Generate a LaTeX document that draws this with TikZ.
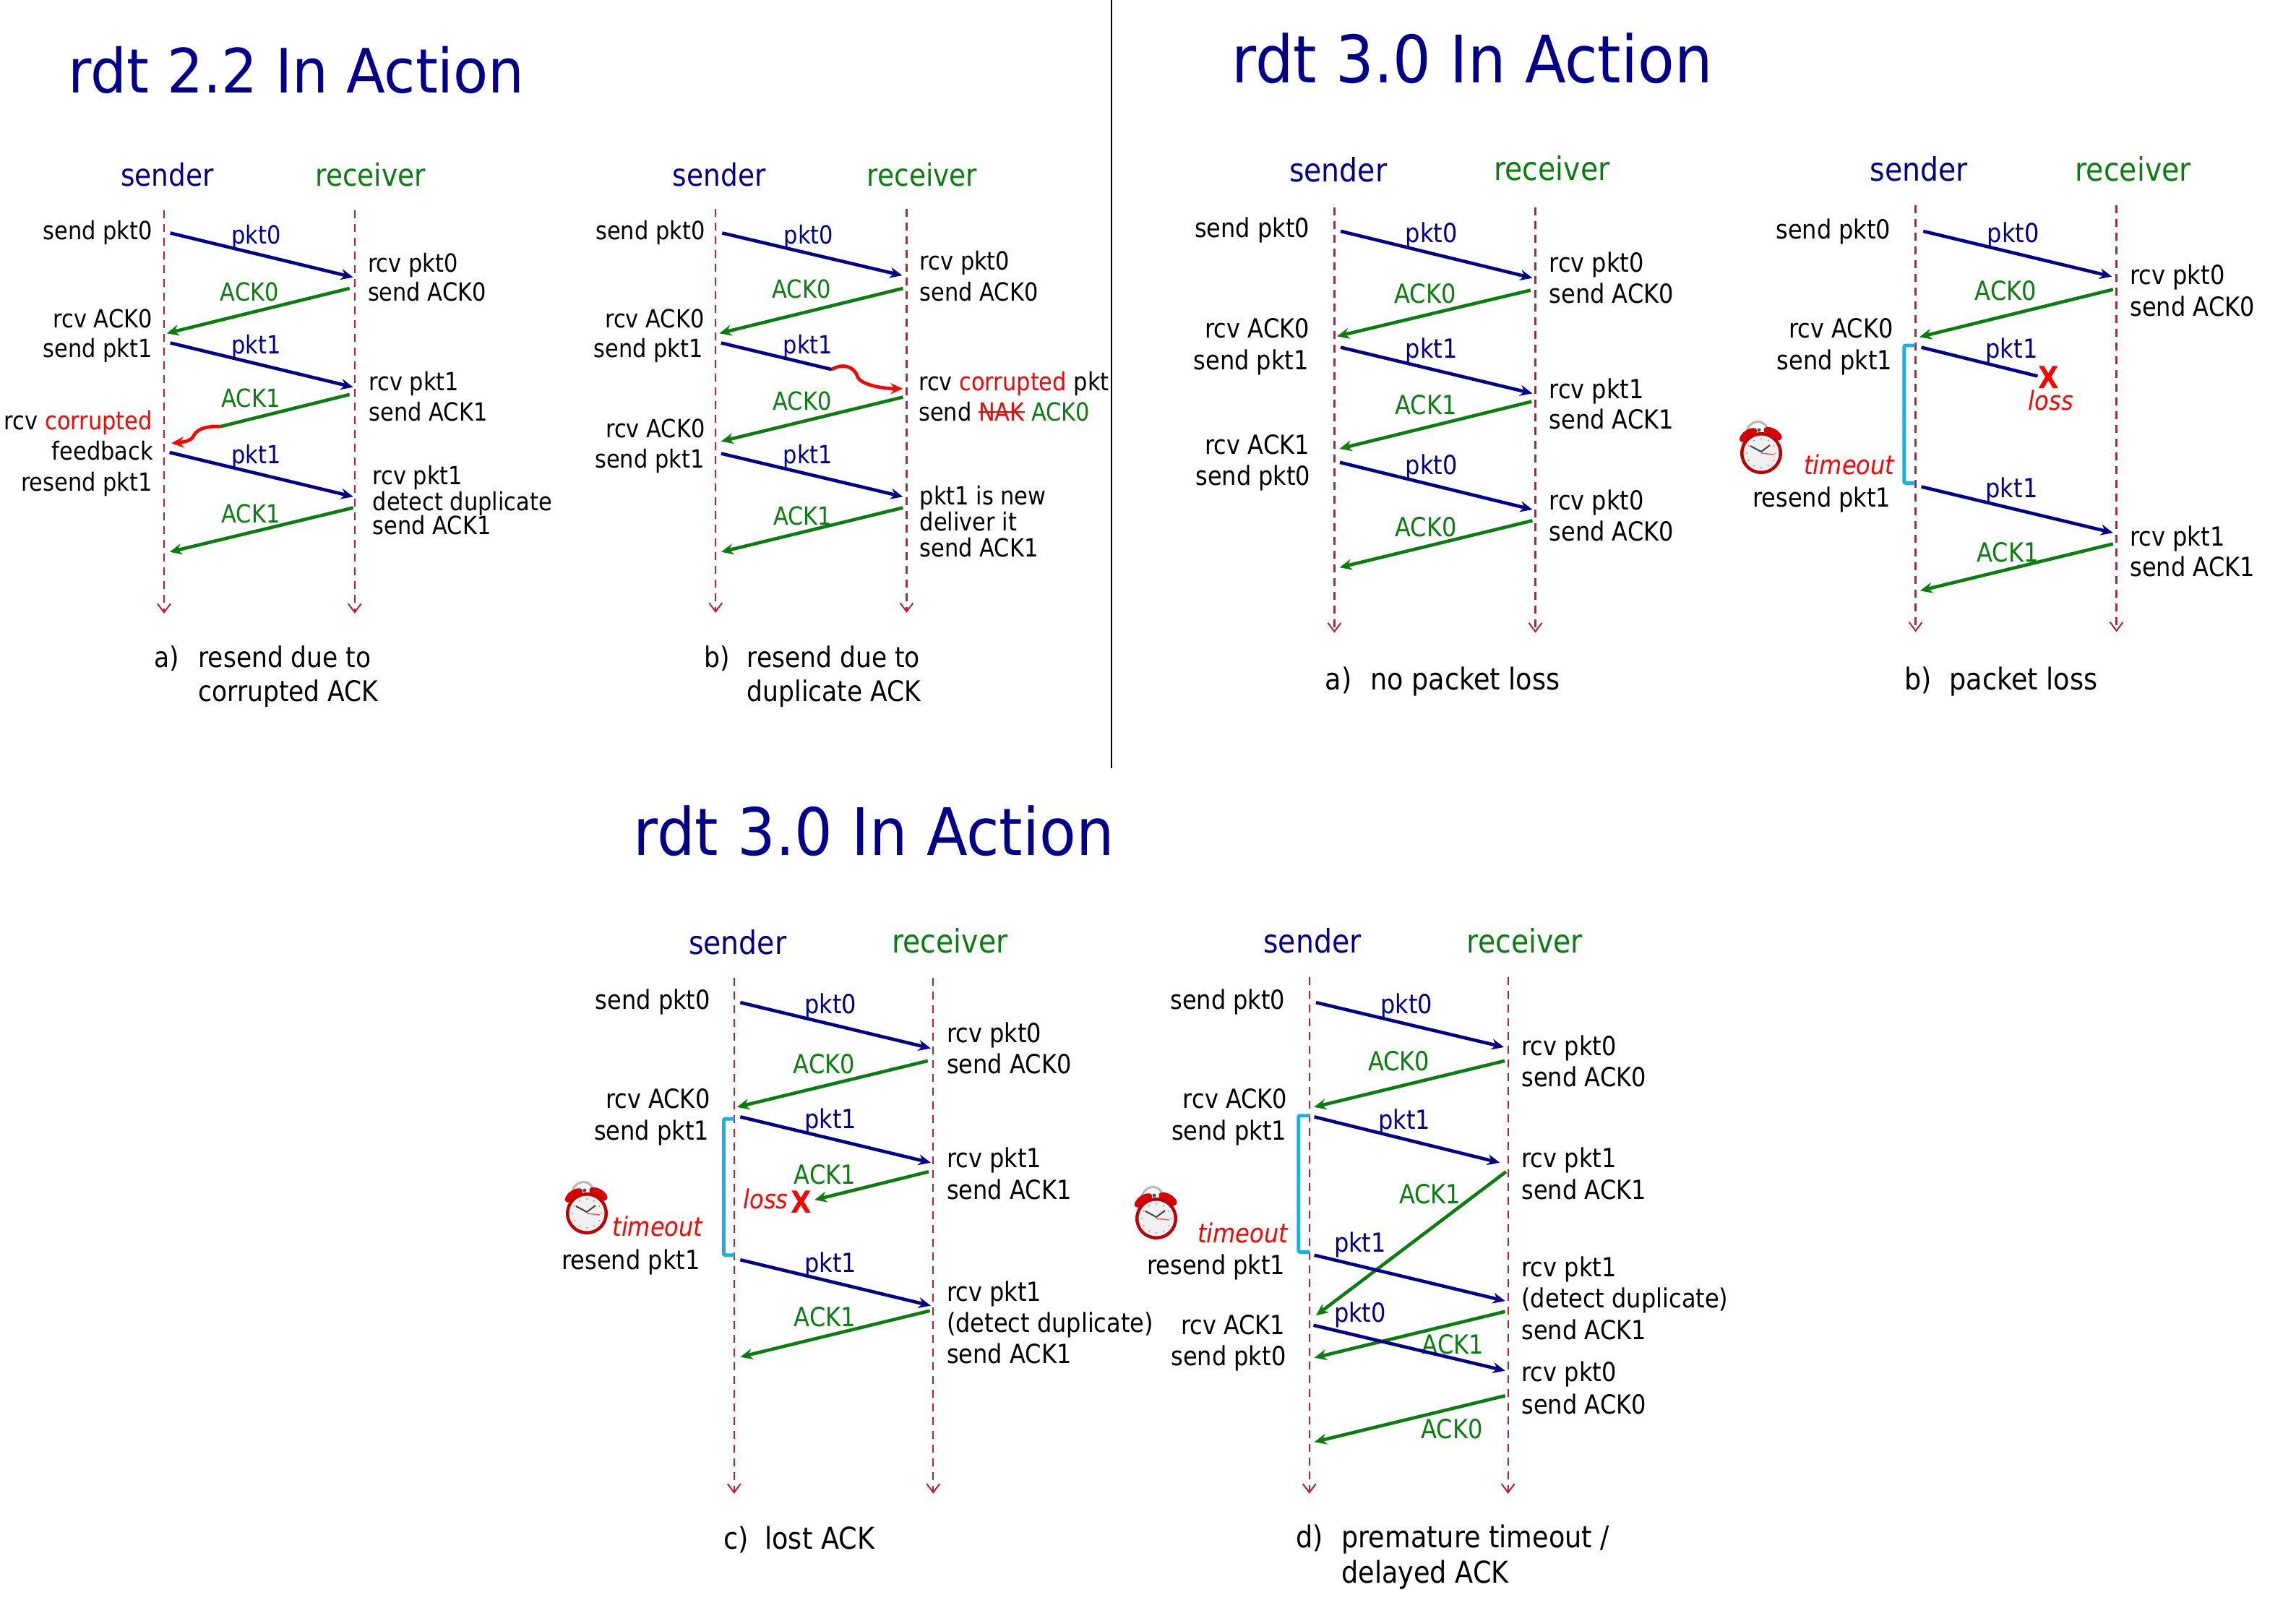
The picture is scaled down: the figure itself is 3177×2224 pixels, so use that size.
\documentclass[tikz,border=0pt]{standalone}
\usepackage{fontspec}
\setmainfont[FakeStretch=0.88]{DejaVu Sans}
\newfontfamily\ttlfam[FakeStretch=0.93]{DejaVu Sans}
\newfontfamily\ttlfamb[FakeStretch=0.915]{DejaVu Sans}
\usetikzlibrary{arrows.meta}
\definecolor{navy}{RGB}{0,0,140}
\definecolor{grn}{RGB}{10,125,15}
\definecolor{lifered}{RGB}{190,30,50}
\definecolor{brk}{RGB}{25,175,232}
\newcounter{tn}
\newcounter{cn}
% text node with an automatic name
\newcommand\lbl[3][]{\stepcounter{tn}\edef\nm{t\arabic{tn}}\node[#1] (\nm) at (#2) {#3};}
% connector between two named coordinates
\newcommand\msg[3]{\stepcounter{cn}\edef\nm{c\arabic{cn}}\coordinate (\nm s) at (#2);\coordinate (\nm e) at (#3);\draw[#1] (\nm s) -- (\nm e);}
% lifelines: xs xr top bottom senderx senderbase recvx recvbase
\newcommand\lifelines[8]{%
  \stepcounter{cn}\edef\nm{c\arabic{cn}}%
  \coordinate (\nm a) at (#1,#3);\coordinate (\nm b) at (#1,#4);
  \coordinate (\nm c) at (#2,#3);\coordinate (\nm d) at (#2,#4);
  \draw[life] (\nm a) -- (\nm b);
  \draw[life] (\nm c) -- (\nm d);
  \lbl[hsnd]{#5,#6}{sender}
  \lbl[hrcv]{#7,#8}{receiver}
}
\newcommand\timerbrack[3]{\stepcounter{cn}\edef\nm{c\arabic{cn}}%
  \coordinate (\nm a) at (#1,#2);\coordinate (\nm b) at (#1,#3);
  \draw[brk,line width=2.4pt,rounded corners=1pt] ([xshift=7.5pt]\nm a) -- (\nm a) -- (\nm b) -- ([xshift=7.5pt]\nm b);}
% alarm clock drawn directly, #1=x #2=y in page pixels
\newcommand\clockicon[2]{%
\begin{scope}[shift={(#1,#2)}]
  \draw[gray!55,line width=1.6pt] (-20,-30) .. controls (-16,-47) and (4,-48) .. (9,-33);
  \fill[black!70] (-3,-32) circle (2.5);
  \fill[red!85!black,rotate around={35:(-18,-25)}] (-18,-25) ellipse (14 and 7);
  \fill[red!85!black,rotate around={-30:(16,-27)}] (16,-27) ellipse (14 and 7);
  \fill[red!75!black] (0,0) circle (29);
  \fill[black!6] (0,0) circle (24.5);
  \foreach \a in {0,30,...,330}{\fill[black!40] (\a:20) circle (1.1);}
  \draw[black!75,line width=1pt] (-15,-10) -- (0,-2) -- (12,-11);
  \draw[red!70,line width=.7pt] (0,0) -- (18,2);
\end{scope}}
\newcommand\strk[1]{\setbox0\hbox{#1}\rlap{\rule[.33em]{\wd0}{1.3pt}}\box0\relax}
\tikzset{
  lft/.style={anchor=base east,inner sep=0pt,text=black,xshift=1pt},
  rgt/.style={anchor=base west,inner sep=0pt,text=black},
  pk/.style={anchor=base west,inner sep=0pt,text=navy},
  ak/.style={anchor=base west,inner sep=0pt,text=grn},
  hsnd/.style={anchor=base west,inner sep=0pt,text=navy,font=\hfont},
  hrcv/.style={anchor=base west,inner sep=0pt,text=grn,font=\hfont},
  captext/.style={anchor=base west,inner sep=0pt,text=black,font=\cfont},
  ttl/.style={anchor=base west,inner sep=0pt,text=navy},
  red it/.style={inner sep=0pt,text=red,font=\pfont\itshape},
  xmark/.style={anchor=center,inner sep=0pt,text=red,font=\fontsize{21}{24}\selectfont\bfseries},
  life/.style={lifered,line width=1.2pt,dash pattern=on 5.5pt off 4pt,-{Straight Barb[length=6pt,width=9pt,line width=1pt]}},
  bl/.style={navy,line width=2.3pt,-{Stealth[length=8.5pt,width=7.5pt]}},
  gr/.style={grn,line width=2.3pt,-{Stealth[length=8.5pt,width=7.5pt]}},
  blnt/.style={navy,line width=2.3pt},
  grnt/.style={grn,line width=2.3pt},
  rdh/.style={red,line width=2.3pt,-{Stealth[length=8.5pt,width=7.5pt]}},
}
\def\pfont{\fontsize{17.3}{20}\selectfont}
\def\hfont{\fontsize{21.3}{24}\selectfont}
\def\cfont{\fontsize{19.6}{22}\selectfont}
\begin{document}
\begin{tikzpicture}[x=0.5pt,y=-0.5pt]
\path[use as bounding box,fill=white] (0,0) rectangle (3177,2224);
\coordinate (divt) at (1538,0);\coordinate (divb) at (1538,1063);
\draw[black,line width=1.2pt] (divt) -- (divb);
\node[ttl,font=\ttlfam\fontsize{42.3}{48}\selectfont] (title1) at (94,128) {rdt 2.2 In Action};
\node[ttl,font=\ttlfamb\fontsize{45.3}{48}\selectfont] (title2) at (1704,114) {rdt 3.0 In Action};
\node[ttl,font=\ttlfamb\fontsize{45.3}{48}\selectfont] (title3) at (876,1183) {rdt 3.0 In Action};

% ---- rdt 2.2 a
\begin{scope}[shift={(0,200)},x=0.2551pt,y=-0.2551pt,every node/.style={font=\pfont}]
\lifelines{445}{962}{178}{1272}{327}{112}{855}{112}
\lbl[lft]{410,258}{send pkt0}
\lbl[lft]{410,497}{rcv ACK0}
\lbl[lft]{410,578}{send pkt1}
\lbl[lft]{410,773}{rcv {\color{red}corrupted}}
\lbl[lft]{412,855}{feedback}
\lbl[lft]{410,940}{resend pkt1}
\lbl[rgt]{997,345}{rcv pkt0}
\lbl[rgt]{997,425}{send ACK0}
\lbl[rgt]{1000,668}{rcv pkt1}
\lbl[rgt]{1000,750}{send ACK1}
\lbl[rgt]{1010,922}{rcv pkt1}
\lbl[rgt]{1010,992}{detect duplicate}
\lbl[rgt]{1010,1058}{send ACK1}
\lbl[pk]{627,270}{pkt0}
\lbl[ak]{597,425}{ACK0}
\lbl[pk]{627,568}{pkt1}
\lbl[ak]{600,712}{ACK1}
\lbl[pk]{627,865}{pkt1}
\lbl[ak]{600,1027}{ACK1}
\msg{bl}{462,240}{958,360}
\msg{gr}{948,390}{452,512}
\msg{bl}{462,538}{958,658}
\msg{grnt}{948,678}{597,765}
\coordinate (ca1) at (597,765);\coordinate (ca2) at (465,810);
\draw[rdh] (ca1) .. controls (545,762) and (530,780) .. (525,790) .. controls (520,805) and (490,808) .. (ca2);
\msg{bl}{460,835}{958,955}
\msg{gr}{958,985}{460,1105}
\lbl[captext]{418,1418}{a)}
\lbl[captext]{537,1418}{resend due to}
\lbl[captext]{537,1510}{corrupted ACK}
\end{scope}

% ---- rdt 2.2 b
\begin{scope}[shift={(780,200)},x=0.2551pt,y=-0.2551pt,every node/.style={font=\pfont}]
\lifelines{412}{930}{175}{1270}{295}{112}{822}{112}
\lbl[lft]{380,258}{send pkt0}
\lbl[lft]{378,497}{rcv ACK0}
\lbl[lft]{375,578}{send pkt1}
\lbl[lft]{380,795}{rcv ACK0}
\lbl[lft]{378,878}{send pkt1}
\lbl[rgt]{965,340}{rcv pkt0}
\lbl[rgt]{965,425}{send ACK0}
\lbl[rgt]{962,668}{rcv {\color{red}corrupted} pkt}
\lbl[rgt]{962,750}{send {\color{red}\strk{NAK}}\ {\color{grn}ACK0}}
\lbl[rgt]{965,977}{pkt1 is new}
\lbl[rgt]{965,1048}{deliver it}
\lbl[rgt]{965,1118}{send ACK1}
\lbl[pk]{597,270}{pkt0}
\lbl[ak]{565,417}{ACK0}
\lbl[pk]{595,568}{pkt1}
\lbl[ak]{567,720}{ACK0}
\lbl[pk]{595,865}{pkt1}
\lbl[ak]{568,1032}{ACK1}
\msg{bl}{430,240}{918,355}
\msg{gr}{920,390}{422,512}
\msg{blnt}{427,538}{727,610}
\coordinate (cb1) at (727,610);\coordinate (cb2) at (920,662);
\draw[rdh] (cb1) .. controls (760,590) and (790,605) .. (797,630) .. controls (805,650) and (860,662) .. (cb2);
\msg{gr}{920,685}{427,805}
\msg{bl}{427,838}{920,955}
\msg{gr}{920,985}{427,1105}
\lbl[captext]{380,1418}{b)}
\lbl[captext]{497,1418}{resend due to}
\lbl[captext]{497,1510}{duplicate ACK}
\end{scope}

\def\pfont{\fontsize{18.2}{21}\selectfont}
\def\hfont{\fontsize{22.4}{25}\selectfont}
\def\cfont{\fontsize{20.8}{24}\selectfont}

% ---- rdt 3.0 a
\begin{scope}[shift={(1600,200)},x=0.2551pt,y=-0.2551pt,every node/.style={font=\pfont}]
\lifelines{483}{1028}{170}{1324}{360}{100}{915}{97}
\lbl[lft]{413,252}{send pkt0}
\lbl[lft]{412,525}{rcv ACK0}
\lbl[lft]{410,610}{send pkt1}
\lbl[lft]{412,840}{rcv ACK1}
\lbl[lft]{415,925}{send pkt0}
\lbl[rgt]{1065,345}{rcv pkt0}
\lbl[rgt]{1065,430}{send ACK0}
\lbl[rgt]{1065,688}{rcv pkt1}
\lbl[rgt]{1065,772}{send ACK1}
\lbl[rgt]{1065,990}{rcv pkt0}
\lbl[rgt]{1065,1075}{send ACK0}
\lbl[pk]{675,265}{pkt0}
\lbl[ak]{645,430}{ACK0}
\lbl[pk]{675,580}{pkt1}
\lbl[ak]{647,733}{ACK1}
\lbl[pk]{675,895}{pkt0}
\lbl[ak]{647,1063}{ACK0}
\msg{bl}{500,235}{1020,362}
\msg{gr}{1015,395}{490,520}
\msg{bl}{500,550}{1020,675}
\msg{gr}{1018,697}{497,825}
\msg{bl}{498,862}{1020,990}
\msg{gr}{1020,1020}{497,1147}
\lbl[captext]{457,1478}{a)}
\lbl[captext]{580,1478}{no packet loss}
\end{scope}

% ---- rdt 3.0 b
\begin{scope}[shift={(2350,200)},x=0.2637pt,y=-0.2551pt,every node/.style={font=\pfont}]
\lifelines{570}{1097}{165}{1322}{450}{98}{988}{98}
\lbl[lft]{502,255}{send pkt0}
\lbl[lft]{508,525}{rcv ACK0}
\lbl[lft]{505,610}{send pkt1}
\lbl[lft]{502,982}{resend pkt1}
\lbl[red it,anchor=base east]{515,895}{timeout}
\lbl[rgt]{1132,380}{rcv pkt0}
\lbl[rgt]{1132,465}{send ACK0}
\lbl[rgt]{1132,1088}{rcv pkt1}
\lbl[rgt]{1132,1172}{send ACK1}
\lbl[pk]{757,265}{pkt0}
\lbl[ak]{725,422}{ACK0}
\lbl[pk]{753,580}{pkt1}
\lbl[pk]{753,958}{pkt1}
\lbl[ak]{730,1132}{ACK1}
\msg{bl}{590,235}{1085,358}
\msg{gr}{1088,393}{580,522}
\msg{blnt}{585,550}{890,628}
\lbl[xmark]{920,632}{X}
\lbl[red it,anchor=base]{925,720}{loss}
\msg{bl}{585,928}{1088,1053}
\msg{gr}{1088,1083}{582,1210}
\timerbrack{540}{545}{918}
\lbl[captext]{540,1478}{b)}
\lbl[captext]{658,1478}{packet loss}
\end{scope}
\clockicon{2437}{627}

% ---- rdt 3.0 c
\begin{scope}[shift={(750,1250)},x=0.287pt,y=-0.271pt,every node/.style={font=\pfont}]
\lifelines{463}{943}{190}{1507}{353}{130}{843}{127}
\lbl[lft]{403,270}{send pkt0}
\lbl[lft]{402,523}{rcv ACK0}
\lbl[lft]{400,605}{send pkt1}
\lbl[lft]{378,935}{resend pkt1}
\lbl[red it,anchor=base east]{388,850}{timeout}
\lbl[rgt]{975,355}{rcv pkt0}
\lbl[rgt]{975,435}{send ACK0}
\lbl[rgt]{975,675}{rcv pkt1}
\lbl[rgt]{975,755}{send ACK1}
\lbl[rgt]{975,1015}{rcv pkt1}
\lbl[rgt]{975,1095}{(detect duplicate)}
\lbl[rgt]{975,1175}{send ACK1}
\lbl[pk]{632,282}{pkt0}
\lbl[ak]{605,435}{ACK0}
\lbl[pk]{632,575}{pkt1}
\lbl[ak]{607,717}{ACK1}
\lbl[pk]{632,942}{pkt1}
\lbl[ak]{607,1080}{ACK1}
\msg{bl}{478,253}{937,370}
\msg{gr}{930,402}{470,520}
\msg{bl}{478,545}{937,662}
\msg{gr}{932,685}{657,757}
\lbl[red it,anchor=base west]{485,780}{loss}
\lbl[xmark]{625,762}{X}
\msg{bl}{478,910}{937,1027}
\msg{gr}{935,1040}{478,1158}
\timerbrack{438}{550}{898}
\end{scope}
\clockicon{812}{1679}
\lbl[captext]{1001,2143}{c)}
\lbl[captext]{1058,2143}{lost ACK}

% ---- rdt 3.0 d
\begin{scope}[shift={(1550,1250)},x=0.287pt,y=-0.271pt,every node/.style={font=\pfont}]
\lifelines{456}{935}{188}{1507}{345}{127}{835}{127}
\lbl[lft]{395,270}{send pkt0}
\lbl[lft]{400,523}{rcv ACK0}
\lbl[lft]{398,605}{send pkt1}
\lbl[lft]{395,948}{resend pkt1}
\lbl[lft]{395,1100}{rcv ACK1}
\lbl[lft]{397,1180}{send pkt0}
\lbl[red it,anchor=base east]{405,867}{timeout}
\lbl[rgt]{967,388}{rcv pkt0}
\lbl[rgt]{967,468}{send ACK0}
\lbl[rgt]{967,675}{rcv pkt1}
\lbl[rgt]{967,755}{send ACK1}
\lbl[rgt]{967,953}{rcv pkt1}
\lbl[rgt]{967,1033}{(detect duplicate)}
\lbl[rgt]{967,1113}{send ACK1}
\lbl[rgt]{967,1220}{rcv pkt0}
\lbl[rgt]{967,1303}{send ACK0}
\lbl[pk]{627,282}{pkt0}
\lbl[ak]{597,428}{ACK0}
\lbl[pk]{622,577}{pkt1}
\lbl[ak]{672,767}{ACK1}
\lbl[pk]{515,890}{pkt1}
\lbl[pk]{515,1070}{pkt0}
\lbl[ak]{727,1150}{ACK1}
\lbl[ak]{725,1367}{ACK0}
\msg{bl}{472,253}{925,367}
\msg{gr}{927,402}{467,520}
\msg{bl}{468,545}{915,662}
\msg{gr}{930,685}{472,1052}
\msg{bl}{468,898}{928,1015}
\msg{gr}{928,1042}{468,1160}
\msg{bl}{466,1077}{928,1193}
\msg{gr}{928,1257}{468,1375}
\timerbrack{430}{542}{890}
\end{scope}
\clockicon{1600}{1686}
\lbl[captext]{1793,2141}{d)}
\lbl[captext]{1856,2141}{premature timeout /}
\lbl[captext]{1856,2190}{delayed ACK}
\end{tikzpicture}
\end{document}
